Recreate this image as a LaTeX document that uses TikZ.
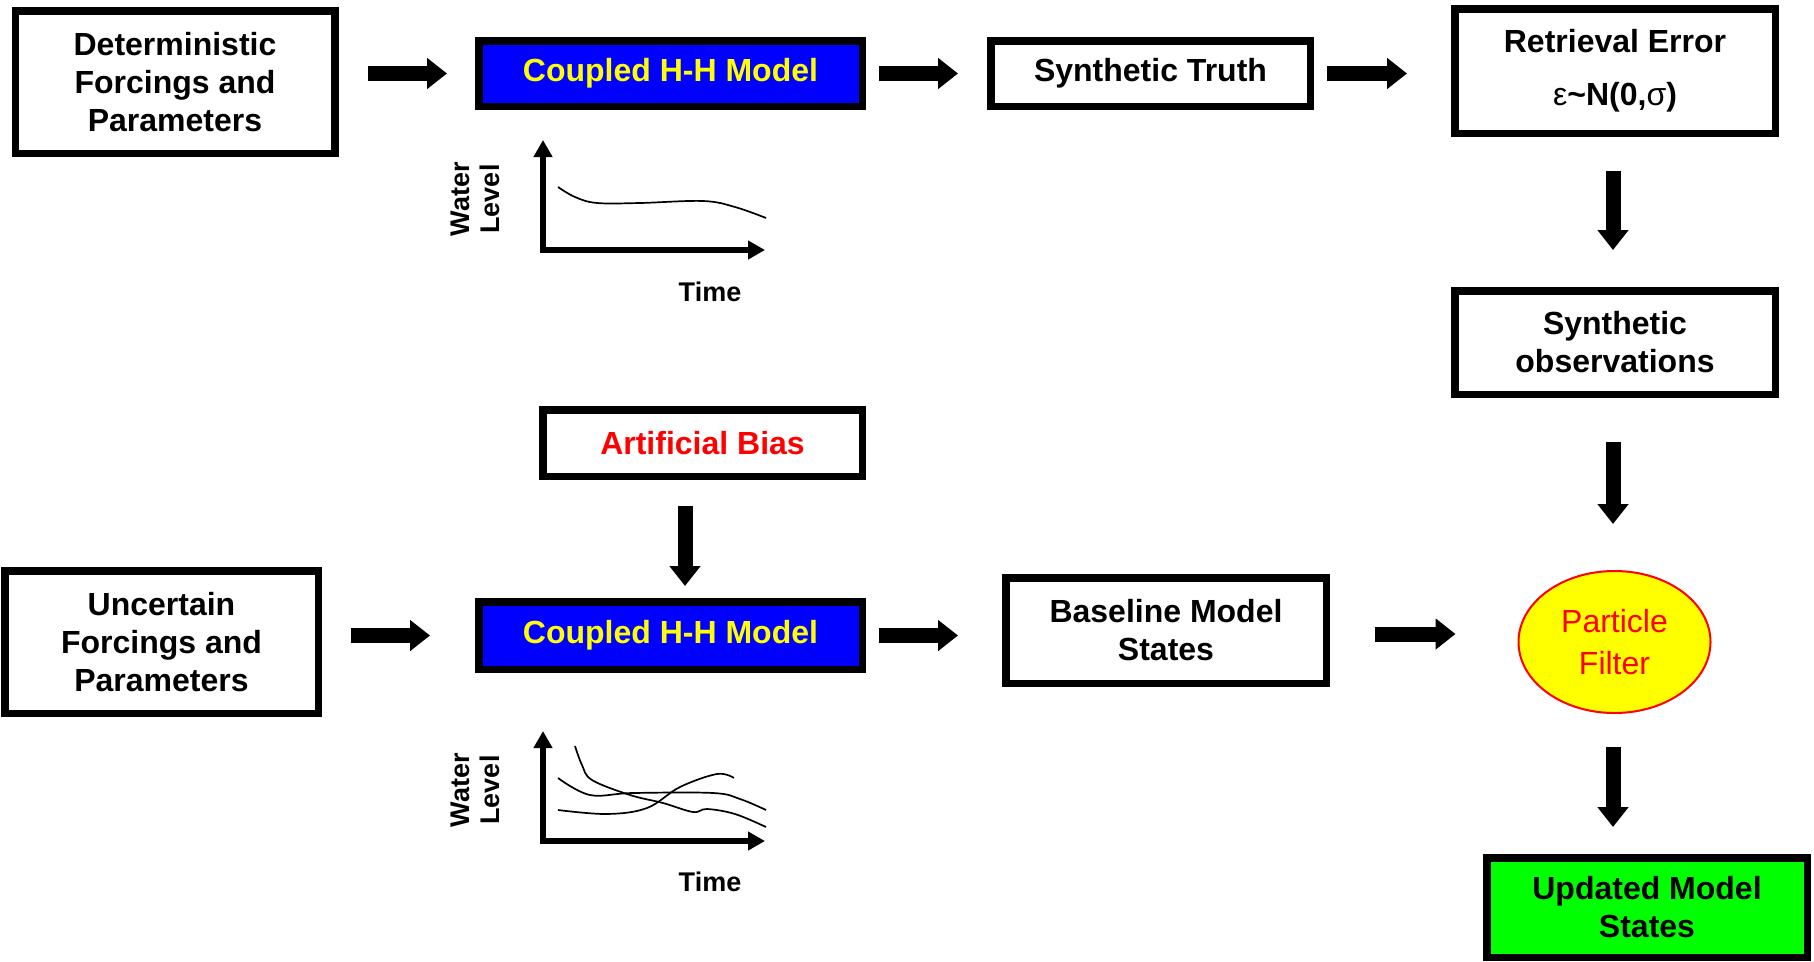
\documentclass[tikz,border=0pt]{standalone}
\usepackage{fontspec}
\setmainfont{Liberation Sans}
\usetikzlibrary{arrows.meta,shapes.geometric}
\definecolor{pblue}{RGB}{0,0,255}
\definecolor{pyellow}{RGB}{255,255,0}
\definecolor{pred}{RGB}{255,0,0}
\definecolor{pgreen}{RGB}{0,255,0}
\begin{document}
\begin{tikzpicture}[x=1pt,y=-1pt,
  box/.style={draw=black, line width=7.5pt, fill=white, inner sep=0pt, align=center,
    font=\fontsize{32}{38}\selectfont\bfseries},
  blk/.style={line width=15pt, -{Triangle[length=20pt,width=30pt]}},
  axis/.style={line width=6.5pt, line join=miter,
    {Triangle[length=17pt,width=18pt]}-{Triangle[length=17pt,width=18pt]}},
  curve/.style={line width=1.7pt},
  axlabel/.style={font=\fontsize{27}{30}\selectfont\bfseries, align=center, inner sep=0pt}]
\useasboundingbox[fill=white] (0,0) rectangle (1814,961);

% boxes
\node[box, minimum width=319.5pt, minimum height=142.5pt] (det) at (175,82) {Deterministic\\Forcings and\\Parameters};
\node[box, fill=pblue, text=pyellow, minimum width=383.5pt, minimum height=65.5pt] (cp1) at (670.5,73.5) {Coupled H-H Model};
\node[box, minimum width=319.5pt, minimum height=65.5pt] (st) at (1150.5,73.5) {Synthetic Truth};
\node[box, minimum width=320.5pt, minimum height=124.5pt] (re) at (1615,71) {Retrieval Error\\[15pt]{\mdseries ε}\char`~N(0,{\mdseries σ})};
\node[box, minimum width=320.5pt, minimum height=103.5pt] (so) at (1615,342.5) {Synthetic\\observations};
\node[box, text=pred, minimum width=319.5pt, minimum height=66.5pt] (ab) at (702.5,443) {Artificial Bias};
\node[box, minimum width=313.5pt, minimum height=142.5pt] (un) at (161.5,642) {Uncertain\\Forcings and\\Parameters};
\node[box, fill=pblue, text=pyellow, minimum width=383.5pt, minimum height=67.5pt] (cp2) at (670.5,635.5) {Coupled H-H Model};
\node[box, minimum width=320.5pt, minimum height=105.5pt] (bl) at (1166,630.5) {Baseline Model\\States};
\node[ellipse, draw=pred, line width=2pt, fill=pyellow, text=pred, minimum width=192pt, minimum height=142pt,
  inner sep=0pt, align=center, font=\fontsize{32}{42}\selectfont] (pf) at (1614.5,642) {Particle\\Filter};
\node[box, fill=pgreen, minimum width=320.5pt, minimum height=99.5pt] (um) at (1647,907.5) {Updated Model\\States};

% block arrows
\draw[blk, shorten <=29pt, shorten >=28pt] (det.east |- cp1.west) -- (cp1.west);
\draw[blk, shorten <=13pt, shorten >=29pt] (cp1.east) -- (st.west);
\draw[blk, shorten <=13pt, shorten >=44pt] (st.east) -- (st.east -| re.west);
\draw[blk, shorten <=34pt, shorten >=37pt] ([xshift=-2pt]re.south) -- ([xshift=-2pt]so.north);
\draw[blk, shorten <=44pt, shorten >=46pt] ([xshift=-2pt]so.south) -- ([xshift=-2pt]so.south |- pf.north);
\draw[blk, shorten <=26pt, shorten >=12pt] ([xshift=-17.5pt]ab.south) -- ([xshift=-17.5pt]ab.south |- cp2.north);
\draw[blk, shorten <=29pt, shorten >=45pt] (un.east |- cp2.west) -- (cp2.west);
\draw[blk, shorten <=13pt, shorten >=44pt] (cp2.east) -- (cp2.east -| bl.west);
\draw[blk, shorten <=45pt, shorten >=62pt] ([yshift=-3.5pt]bl.east) -- ([yshift=-3.5pt]bl.east -| pf.west);
\draw[blk, shorten <=33pt, shorten >=27pt] ([xshift=-1.5pt]pf.south) -- ([xshift=-1.5pt]pf.south |- um.north);

% top plot
\draw[axis] (543,140) -- (543,250) -- (765,250);
\draw[curve] plot[smooth, tension=0.6] coordinates {(558,187) (575,197) (597,203) (640,203) (703,201) (735,207) (766,218)};
\node[axlabel, rotate=90] (wl1) at (475,199) {Water\\Level};
\node[axlabel] (t1) at (710,292) {Time};

% bottom plot
\draw[axis] (543,731) -- (543,841) -- (765,841);
\draw[curve] plot[smooth, tension=0.6] coordinates {(575,746) (582,765) (592,780) (630,795) (663,803) (693,812) (707,809) (735,814) (766,827)};
\draw[curve] plot[smooth, tension=0.6] coordinates {(558,778) (590,795) (633,793) (713,793) (740,799) (766,810)};
\draw[curve] plot[smooth, tension=0.6] coordinates {(558,810) (607,814) (647,808) (680,787) (717,774) (734,778)};
\node[axlabel, rotate=90] (wl2) at (475,790) {Water\\Level};
\node[axlabel] (t2) at (710,882) {Time};
\end{tikzpicture}
\end{document}
